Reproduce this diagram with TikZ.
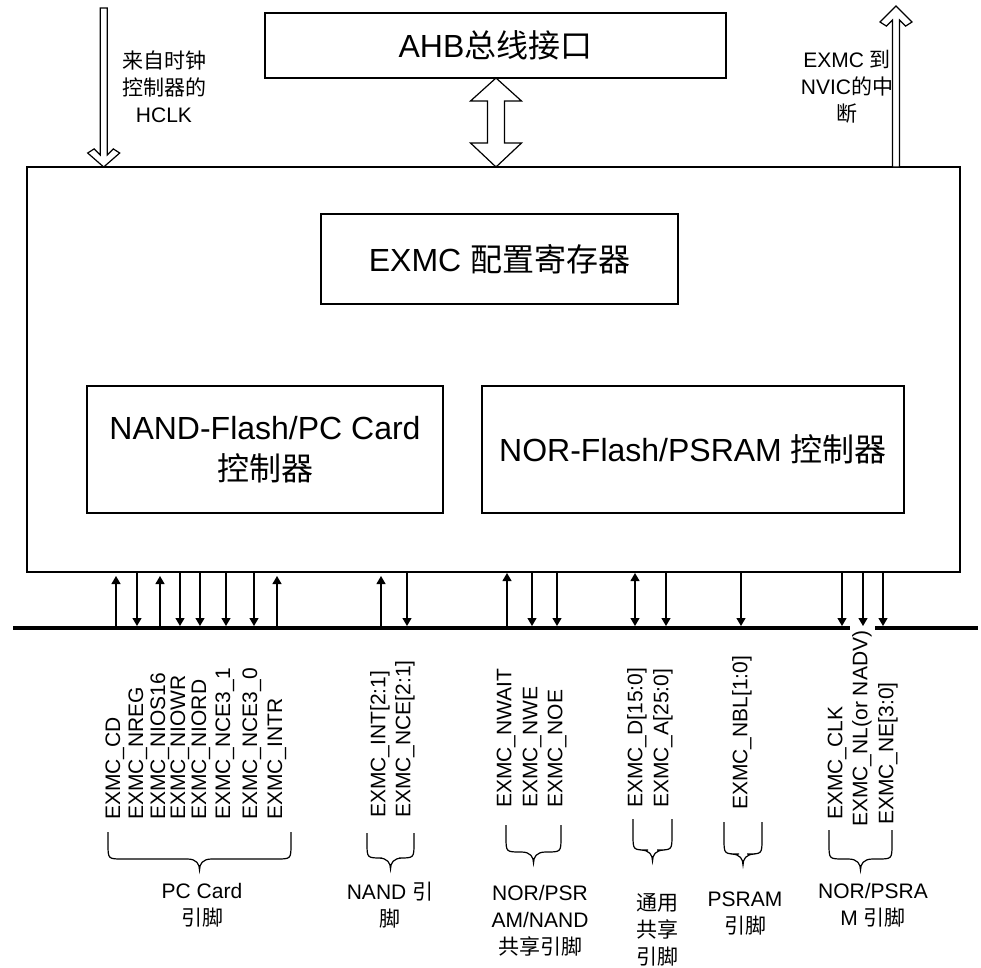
\documentclass[tikz,border=0pt]{standalone}
\usepackage{fontspec}
\setmainfont{Liberation Sans}
\newfontfamily\cjk{Noto Sans CJK SC}
\usetikzlibrary{arrows.meta}
\newcommand\mybrace[4]{%
  \draw[bracestyle] (#1,#3) -- (#1,#4-26)
    .. controls (#1,#4-11) and (#1,#4-11) .. ({#1+15},#4-11)
    -- ({(#1+#2)/2-12},#4-11)
    .. controls ({(#1+#2)/2-3},#4-11) and ({(#1+#2)/2},#4-6) .. ({(#1+#2)/2},#4)
    .. controls ({(#1+#2)/2},#4-6) and ({(#1+#2)/2+3},#4-11) .. ({(#1+#2)/2+12},#4-11)
    -- ({#2-15},#4-11)
    .. controls (#2,#4-11) and (#2,#4-11) .. (#2,#4-26) -- (#2,#3);}
\begin{document}
\begin{tikzpicture}[x=1pt,y=-1pt,
  box/.style={draw, line width=1.2pt, inner sep=0pt, align=center,
              font=\fontsize{32}{41}\selectfont},
  hollow/.style={draw, line width=1.2pt, fill=white, line join=miter},
  sigdown/.style={line width=1.2pt, -{Triangle[length=8pt,width=9pt]}},
  sigboth/.style={line width=1.2pt, {Triangle[length=8pt,width=9pt]}-{Triangle[length=8pt,width=9pt]}},
  pinlbl/.style={rotate=90, anchor=west, inner sep=1pt,
              font=\fontsize{21}{24}\selectfont},
  grp/.style={align=center, inner sep=0pt, font=\fontsize{21}{27}\selectfont},
  bracestyle/.style={line width=1.2pt}]
\useasboundingbox (0,0) rectangle (981,967);

% boxes
\node[box, minimum width=933pt, minimum height=405pt] (main) at (493.5,369.5) {};
\node[box, minimum width=461pt, minimum height=65pt] (ahb) at (495.5,45.5) {AHB{\cjk 总线接口}};
\node[box, minimum width=357pt, minimum height=90pt] (cfg) at (499.5,259) {EXMC {\cjk 配置寄存器}};
\node[box, minimum width=356pt, minimum height=127pt] (nand) at (265,449.5) {NAND-Flash/PC Card\\{\cjk 控制器}};
\node[box, minimum width=422pt, minimum height=127pt] (nor) at (693,449.5) {NOR-Flash/PSRAM {\cjk 控制器}};

% hollow arrows
\def\cx{103.7}
\draw[hollow] (\cx-3.5,8) -- (\cx-3.5,155) -- (\cx-9.6,148.9) -- (\cx-16,153) -- (\cx,167)
  -- (\cx+16,153) -- (\cx+9.6,148.9) -- (\cx+3.5,155) -- (\cx+3.5,8) -- cycle;
\def\cx{896}
\draw[hollow] (\cx-3.5,167) -- (\cx-3.5,20) -- (\cx-9.6,26.1) -- (\cx-16,22) -- (\cx,6)
  -- (\cx+16,22) -- (\cx+9.6,26.1) -- (\cx+3.5,20) -- (\cx+3.5,167) -- cycle;
\def\cx{496}
\draw[hollow] (\cx,78) -- (\cx+25.5,101) -- (\cx+8.5,101) -- (\cx+8.5,143) -- (\cx+25.5,143)
  -- (\cx,167) -- (\cx-25.5,143) -- (\cx-8.5,143) -- (\cx-8.5,101) -- (\cx-25.5,101) -- cycle;

% side labels
\node[grp, font=\fontsize{21}{27}\selectfont] (hclk) at (164,87) {{\cjk 来自时钟}\\{\cjk 控制器的}\\HCLK};
\node[grp, font=\fontsize{21}{27}\selectfont] (nvic) at (847,87) {EXMC {\cjk 到}\\NVIC{\cjk 的中}\\{\cjk 断}};

% bus
\coordinate (busL) at (13,628);
\coordinate (gapL) at (850,628);
\coordinate (gapR) at (875,628);
\coordinate (busR) at (978,628);
\draw[line width=4pt] (busL) -- (gapL);
\draw[line width=4pt] (gapR) -- (busR);

% signal arrows: up
\foreach \x/\t [count=\i] in {116/576,160/576,277/576,381/576,507/573}{
  \coordinate (u\i a) at (\x,626);
  \coordinate (u\i b) at (\x,\t);
  \draw[sigdown] (u\i a) -- (u\i b);
}
% down
\foreach \x [count=\i] in {137,180,200,226,254,407,532,557,666,741,842,863,883}{
  \coordinate (d\i a) at (\x,572);
  \coordinate (d\i b) at (\x,626);
  \draw[sigdown] (d\i a) -- (d\i b);
}
% both
\coordinate (ba) at (635,573);
\coordinate (bb) at (635,626);
\draw[sigboth] (ba) -- (bb);

% pin labels
\foreach \x/\y/\t [count=\i] in {
  115/821/EXMC\_CD, 138/821/EXMC\_NREG, 160/821/EXMC\_NIOS16, 180/821/EXMC\_NIOWR,
  201/821/EXMC\_NIORD, 225/821/EXMC\_NCE3\_1, 252/821/EXMC\_NCE3\_0, 277/821/EXMC\_INTR,
  380/819/EXMC\_INT[2:1], 405/819/EXMC\_NCE[2:1],
  506/809/EXMC\_NWAIT, 532/809/EXMC\_NWE, 557/809/EXMC\_NOE,
  637/809/EXMC\_D[15:0], 663/809/EXMC\_A[25:0],
  742/811/EXMC\_NBL[1:0],
  837/821/EXMC\_CLK, 862/828/EXMC\_NL(or NADV), 888/826/EXMC\_NE[3:0]}{
  \node[pinlbl] (p\i) at (\x,\y) {\t};
}

% braces
\mybrace{108}{291}{832}{870}
\mybrace{367}{414}{833}{869}
\mybrace{506}{561}{825}{863}
\mybrace{633}{672}{819}{861}
\mybrace{724}{762}{822}{865}
\mybrace{829}{892}{830}{870}

% group labels
\node[grp] (g1) at (202,905) {PC Card\\{\cjk 引脚}};
\node[grp] (g2) at (390,905) {NAND {\cjk 引}\\{\cjk 脚}};
\node[grp] (g3) at (540,921) {NOR/PSR\\AM/NAND\\{\cjk 共享引脚}};
\node[grp] (g4) at (657,930) {{\cjk 通用}\\{\cjk 共享}\\{\cjk 引脚}};
\node[grp] (g5) at (745,913) {PSRAM\\{\cjk 引脚}};
\node[grp] (g6) at (873,905) {NOR/PSRA\\M {\cjk 引脚}};
\end{tikzpicture}
\end{document}
